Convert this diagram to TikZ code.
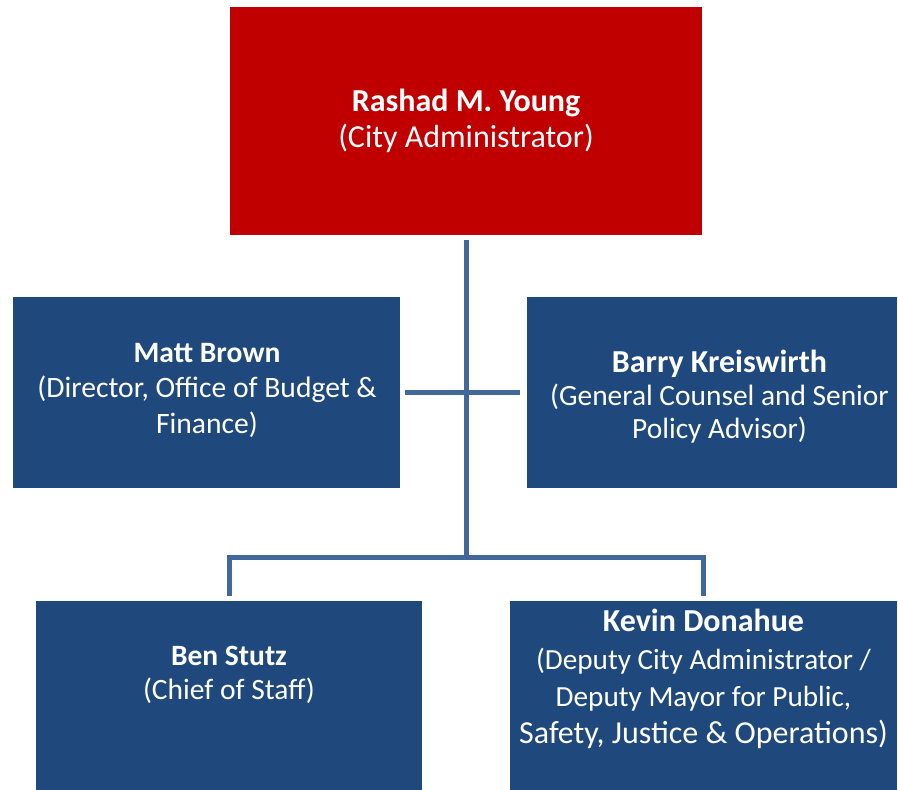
\documentclass[tikz,border=0pt]{standalone}
\usepackage{fontspec}
\setmainfont{Carlito}
\usetikzlibrary{positioning}
\definecolor{adminred}{HTML}{C00000}
\definecolor{staffblue}{HTML}{1F497D}
\definecolor{linkblue}{HTML}{41679B}
\newcommand{\sized}[2]{\fontsize{#1}{#2}\selectfont}

\begin{document}
\begin{tikzpicture}[x=1pt,y=-1pt,
    box/.style={fill=staffblue, inner sep=0pt},
    who/.style={text=white, align=center, inner sep=0pt},
    link/.style={draw=linkblue, line width=5pt}]
        \useasboundingbox (0,0) rectangle (898,790);
        \node [box, fill=adminred, minimum width=472pt, minimum height=228pt] (admin) at (466,121) {};
        \node [box, minimum width=387pt, minimum height=191pt] (brown) at (206.5,392.5) {};
        \node [box, minimum width=370pt, minimum height=191pt] (kreiswirth) at (712,392.5) {};
        \node [box, minimum width=386pt, minimum height=189pt] (stutz) at (229,695.5) {};
        \node [box, minimum width=387pt, minimum height=189pt] (donahue) at (703.5,695.5) {};
        \node [who, font=\sized{32}{36}] (admintxt) at (466,121) {\textbf{Rashad M. Young}\\(City Administrator)};
        \node [who, font=\sized{29.6}{35.5}] (browntxt) at (207,390) {\textbf{Matt Brown}\\(Director, Office of Budget \&\\Finance)};
        \node [who, font=\sized{29.4}{33}] (kreiswirthtxt) at (719.5,397) {{\sized{32}{33}\textbf{Barry Kreiswirth}}\\(General Counsel and Senior\\Policy Advisor)};
        \node [who, font=\sized{29.5}{34}] (stutztxt) at (229,675) {\textbf{Ben Stutz}\\(Chief of Staff)};
        \node [who, font=\sized{32}{37.3}] (donahuetxt) at (703.5,679) {\textbf{Kevin Donahue}\\{\sized{29.2}{37.3}(Deputy City Administrator /}\\{\sized{29.2}{37.3}Deputy Mayor for Public,}\\Safety, Justice \& Operations)};
        \coordinate (hub) at (466,557);
        \draw [link] ([yshift=-5pt]admin.south) -- (hub);
        \draw [link] ([xshift=5pt]brown.east) -- ([xshift=-7pt]kreiswirth.west);
        \draw [link] ([yshift=5pt]stutz.north) |- (hub) -| ([yshift=5pt]donahue.north);
\end{tikzpicture}
\end{document}
